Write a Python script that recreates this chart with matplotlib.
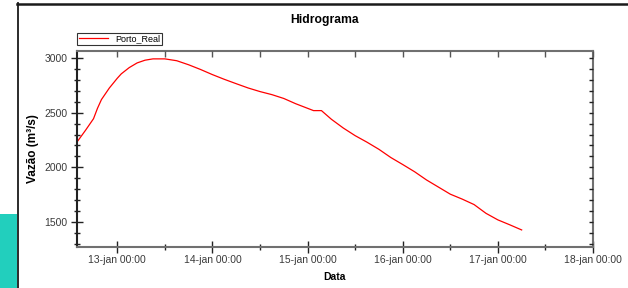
import matplotlib.pyplot as plt
import matplotlib.dates as mdates
import numpy as np
import pandas as pd
from matplotlib.patches import Rectangle
from matplotlib.lines import Line2D

plt.rcParams['font.family'] = ['Liberation Sans', 'DejaVu Sans']

# leituras aproximadas do hidrograma (Porto_Real)
times = ["2024-01-12 14:00", "2024-01-12 16:00", "2024-01-12 18:00", "2024-01-12 19:00",
         "2024-01-12 20:00", "2024-01-12 22:00", "2024-01-13 00:00", "2024-01-13 01:00",
         "2024-01-13 03:00", "2024-01-13 05:00", "2024-01-13 07:00", "2024-01-13 09:00",
         "2024-01-13 12:00", "2024-01-13 15:00", "2024-01-13 18:00", "2024-01-13 21:00",
         "2024-01-14 00:00", "2024-01-14 03:00", "2024-01-14 06:00", "2024-01-14 09:00",
         "2024-01-14 12:00", "2024-01-14 15:00", "2024-01-14 18:00", "2024-01-14 21:00",
         "2024-01-15 00:00", "2024-01-15 01:30", "2024-01-15 03:30", "2024-01-15 06:00",
         "2024-01-15 09:00", "2024-01-15 12:00", "2024-01-15 15:00", "2024-01-15 18:00",
         "2024-01-15 21:00", "2024-01-16 00:00", "2024-01-16 03:00", "2024-01-16 06:00",
         "2024-01-16 09:00", "2024-01-16 12:00", "2024-01-16 15:00", "2024-01-16 18:00",
         "2024-01-16 21:00", "2024-01-17 00:00", "2024-01-17 03:00", "2024-01-17 06:00"]
vazao = [2240, 2340, 2445, 2540,
         2620, 2726, 2815, 2855,
         2912, 2955, 2980, 2992,
         2992, 2975, 2938, 2895,
         2848, 2805, 2765, 2726,
         2693, 2665, 2630, 2582,
         2540, 2519, 2519, 2440,
         2360, 2290, 2230, 2165,
         2090, 2026, 1960, 1885,
         1820, 1755, 1710, 1660,
         1580, 1520, 1475, 1428]

series_name = "Porto_Real"
title = "Hidrograma"
x_label = "Data"
y_label = "Vazão (m³/s)"

t = pd.to_datetime(times)
x_min = pd.Timestamp("2024-01-12 13:50")
x_max = pd.Timestamp("2024-01-18 00:00")
y_min, y_max = 1272, 3064

fig = plt.figure(figsize=(6.28, 2.88), dpi=100)
fig.patch.set_facecolor('white')

# pedaços da captura de tela: bloco verde-água e bordas pretas
fig.add_artist(Rectangle((0, 0), 17/628, (288-214)/288, transform=fig.transFigure,
                         color='#22cfbd', lw=0))
fig.add_artist(Line2D([17.5/628, 17.5/628], [0, 1-3/288], transform=fig.transFigure,
                      color='#1a1a1a', lw=1.3))
fig.add_artist(Line2D([17/628, 1], [1-3.5/288, 1-3.5/288], transform=fig.transFigure,
                      color='#1a1a1a', lw=1.8))

ax = fig.add_axes([77/628, (288-247)/288, (593-77)/628, (247-51)/288])
ax.plot(t, vazao, color='red', lw=0.9, label=series_name)

ax.set_xlim(x_min, x_max)
ax.set_ylim(y_min, y_max)

ax.xaxis.set_major_locator(mdates.DayLocator())
ax.xaxis.set_minor_locator(mdates.HourLocator(byhour=[12]))
ax.xaxis.set_major_formatter(plt.FuncFormatter(
    lambda v, p: mdates.num2date(v).strftime('%d-%b %H:%M').lower()))
ax.set_yticks([1500, 2000, 2500, 3000])
ax.set_yticks(np.arange(1300, 3100, 100), minor=True)

for s in ax.spines.values():
    s.set_color('#707070')
    s.set_linewidth(1.5)
ax.spines['left'].set_color('#222222')

ax.tick_params(which='major', direction='inout', length=8, width=1, color='#222222',
               labelsize=7.5, labelcolor='#3a3a3a', pad=3)
ax.tick_params(which='minor', direction='inout', length=4, width=1, color='#222222')
ax.tick_params(axis='x', which='major', pad=1.5)

# marcas internas no topo e à direita
top = ax.twiny()
top.set_xlim(x_min, x_max)
top.xaxis.set_major_locator(mdates.DayLocator())
top.xaxis.set_minor_locator(mdates.HourLocator(byhour=[12]))
top.tick_params(which='both', direction='in', length=4, width=1, labeltop=False,
                color='#555555')
right = ax.twinx()
right.set_ylim(y_min, y_max)
right.set_yticks([1500, 2000, 2500, 3000])
right.set_yticks(np.arange(1300, 3100, 100), minor=True)
right.tick_params(which='both', direction='in', length=3, width=1, labelright=False,
                  color='#222222')
for a in (top, right):
    for s in a.spines.values():
        s.set_visible(False)

ax.set_xlabel(x_label, fontsize=7.5, fontweight='bold', labelpad=5.5)
ax.set_ylabel(y_label, fontsize=8.5, fontweight='bold', labelpad=4)
fig.text(325/628, 1-19.5/288, title, ha='center', va='center', fontsize=8.7,
         fontweight='bold')

leg = ax.legend(loc='lower left', bbox_to_anchor=(0, 1.03), fontsize=6.5,
                frameon=True, fancybox=False, borderpad=0.2, handlelength=3.2,
                handletextpad=0.8, borderaxespad=0)
leg.get_frame().set_edgecolor('black')
leg.get_frame().set_linewidth(0.8)

fig.savefig('out.png', dpi=100)
